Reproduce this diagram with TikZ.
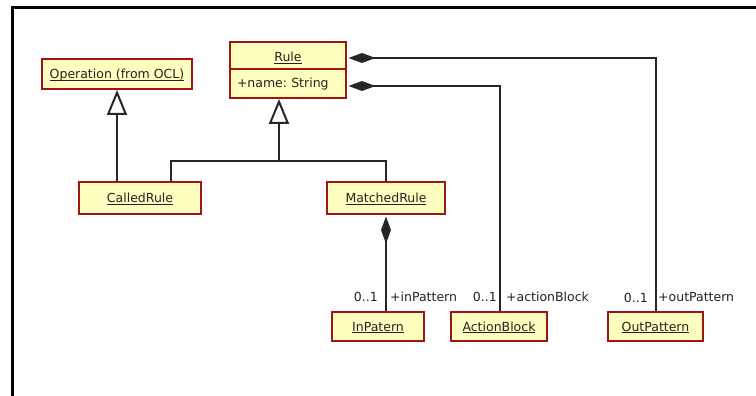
\documentclass[tikz,border=0pt]{standalone}
\usepackage{fontspec}
\setmainfont{DejaVu Sans}
\usetikzlibrary{arrows.meta,calc}
\definecolor{boxfill}{RGB}{255,255,192}
\definecolor{boxline}{RGB}{160,20,20}
\definecolor{txt}{RGB}{35,35,35}
\newcommand\uln[1]{\underline{\smash{#1}}}
\frenchspacing
\begin{document}
\begin{tikzpicture}[x=1pt,y=-1pt,
  font=\fontsize{12.5}{15}\selectfont,
  umlbox/.style={draw=boxline, fill=boxfill, line width=2pt, inner sep=0pt, text=txt, text height=9pt, text depth=0pt},
  conn/.style={draw=black!85, line width=2pt},
  gen/.style={conn, -{Triangle[open, length=25pt, width=20pt, fill=white]}},
  comp/.style={conn, {Diamond[length=27pt, width=10pt]}-, shorten <=1.5pt},
  lbl/.style={text=txt, inner sep=0pt}]
\useasboundingbox (0,0) rectangle (756,396);
\fill[white] (0,0) rectangle (756,396);
\draw[line width=3pt] (12.5,396) -- (12.5,7.5) -- (756,7.5);

\node[umlbox, minimum width=150pt, minimum height=30pt] (op) at (117,74) {\uln{Operation (from OCL)}};
\node[umlbox, minimum width=116pt, minimum height=27pt] (ruleN) at (288,55.5) {\raisebox{-1.5pt}{\uln{Rule}}};
\node[umlbox, minimum width=116pt, minimum height=29pt, text width=102pt, align=left] (ruleA) at (288,83.5) {+name: String};
\node[umlbox, minimum width=122pt, minimum height=32pt] (called) at (140,198) {\uln{CalledRule}};
\node[umlbox, minimum width=118pt, minimum height=32pt] (matched) at (386,198) {\uln{MatchedRule}};
\node[umlbox, minimum width=92pt, minimum height=29pt] (inp) at (378,326.5) {\uln{InPatern}};
\node[umlbox, minimum width=96pt, minimum height=29pt] (action) at (499,326.5) {\uln{ActionBlock}};
\node[umlbox, minimum width=95pt, minimum height=29pt] (outp) at (655.5,326.5) {\uln{OutPattern}};

\draw[gen] (called.north -| op.south) -- (op.south);
\coordinate (bar) at (279,161);
\draw[gen] (bar) -- (bar |- ruleA.south);
\draw[conn] ([xshift=31pt]called.north) |- (bar) -| (matched.north);

\draw[comp] ([yshift=-2.5pt]ruleN.east) -| ([xshift=0.5pt]outp.north);
\draw[comp] ([yshift=-2.5pt]ruleA.east) -| ([xshift=1pt]action.north);
\draw[comp] (matched.south) -- (inp.north -| matched.south);

\node[lbl, anchor=base east] at (378,301) {0..1};
\node[lbl, anchor=base west] at (390,301) {+inPattern};
\node[lbl, anchor=base east] at (497,301) {0..1};
\node[lbl, anchor=base west] at (506,301) {+actionBlock};
\node[lbl, anchor=base east] at (648,302) {0..1};
\node[lbl, anchor=base west] at (658,301) {+outPattern};
\end{tikzpicture}
\end{document}
